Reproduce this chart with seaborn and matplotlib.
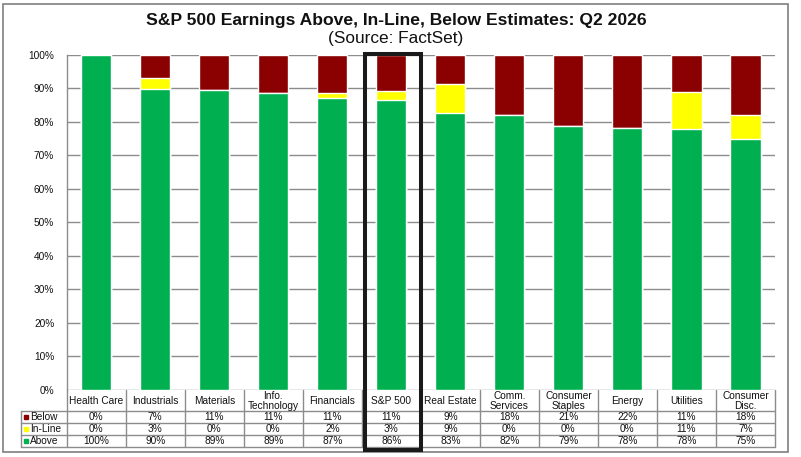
import numpy as np
import pandas as pd
import matplotlib
matplotlib.use('Agg')
import matplotlib.pyplot as plt
import seaborn as sns
from matplotlib.patches import Rectangle

# dados (% de empresas)
sectors = ['Health Care', 'Industrials', 'Materials', 'Info.\nTechnology', 'Financials', 'S&P 500',
           'Real Estate', 'Comm.\nServices', 'Consumer\nStaples', 'Energy', 'Utilities', 'Consumer\nDisc.']
above = [100, 89.9, 89.4, 88.6, 87.1, 86.4, 82.7, 82.0, 78.8, 78.0, 77.8, 75.0]
inline = [0, 3.3, 0, 0, 1.5, 2.8, 8.6, 0, 0, 0, 11.1, 7.0]
below = [0, 6.8, 10.6, 11.4, 11.4, 10.8, 8.7, 18.0, 21.2, 22.0, 11.1, 18.0]

GREEN = '#00B050'
YELLOW = '#FFFF00'
RED = '#8B0000'
GRID = '#8c8c8c'
TXT = '#111111'

df = pd.DataFrame({'sector': sectors, 'above': above, 'inline': inline, 'below': below})
df['top_inline'] = df['above'] + df['inline']
df['total'] = df['top_inline'] + df['below']

sns.set_style('white')
plt.rcParams['font.family'] = ['Liberation Sans', 'DejaVu Sans']

W, H = 801, 457
fig = plt.figure(figsize=(W / 100, H / 100), dpi=100)

def fx(px):
    return px / W

def fy(py):
    return 1 - py / H

# eixo principal
L, R, T, B = 66.7, 775, 54.7, 390
ax = fig.add_axes([fx(L), fy(B), fx(R - L), (B - T) / H])

# barras empilhadas: desenha o total e sobrepoe as camadas
sns.barplot(data=df, x='sector', y='total', color=RED, saturation=1, width=0.51, ax=ax, zorder=3)
sns.barplot(data=df, x='sector', y='top_inline', color=YELLOW, saturation=1, width=0.51, ax=ax, zorder=3)
sns.barplot(data=df, x='sector', y='above', color=GREEN, saturation=1, width=0.51, ax=ax, zorder=3)

ax.set_xlim(-0.5, len(sectors) - 0.5)
ax.set_ylim(0, 100)
ax.set_yticks(np.arange(0, 101, 10))
ax.set_yticklabels([f'{v}%' for v in range(0, 101, 10)], fontsize=7.3, color=TXT)
ax.set_xticks([])
ax.set_xlabel('')
ax.set_ylabel('')
ax.yaxis.grid(True, color=GRID, linewidth=1.0, zorder=0)
ax.set_axisbelow(True)
ax.tick_params(axis='y', length=0, pad=9)
for s in ['top', 'right', 'bottom']:
    ax.spines[s].set_visible(False)
ax.spines['left'].set_color(GRID)
ax.spines['left'].set_linewidth(1.0)

# titulo
fig.text(fx(396), fy(20), 'S&P 500 Earnings Above, In-Line, Below Estimates: Q2 2026',
         ha='center', va='center', fontsize=12.6, fontweight='bold', color=TXT)
fig.text(fx(396), fy(39), '(Source: FactSet)', ha='center', va='center', fontsize=12.4, color=TXT)

# tabela de dados abaixo do grafico
tb_bottom = 446.7
tab = fig.add_axes([fx(L), fy(tb_bottom), fx(R - L), (tb_bottom - B) / H])
tab.set_xlim(-0.5, len(sectors) - 0.5)
tab.set_ylim(tb_bottom - B, 0)
tab.axis('off')

row_y = [0, 20.7, 33.3, 45.3, 56.7]
n = len(sectors)
lc = GRID
lbl_left = -0.5 - (L - 20.7) / ((R - L) / n)

# linhas horizontais
for yy in row_y[1:]:
    tab.plot([lbl_left, n - 0.5], [yy, yy], color=lc, lw=1.0, clip_on=False)
# linhas verticais
for i in range(n + 1):
    tab.plot([i - 0.5, i - 0.5], [0, row_y[-1]], color=lc, lw=1.0, clip_on=False)
tab.plot([lbl_left, lbl_left], [row_y[1], row_y[-1]], color=lc, lw=1.0, clip_on=False)

for i, name in enumerate(sectors):
    tab.text(i, row_y[1] / 2 + 0.5, name, ha='center', va='center', fontsize=7.3,
             color=TXT, linespacing=0.92)

rows = [('Below', below, RED), ('In-Line', inline, YELLOW), ('Above', above, GREEN)]
for r, (name, vals, col) in enumerate(rows):
    yc = (row_y[r + 1] + row_y[r + 2]) / 2
    tab.plot([lbl_left + 0.09], [yc], marker='s', markersize=3.4, color=col, clip_on=False, linestyle='')
    tab.text(lbl_left + 0.16, yc, name, ha='left', va='center', fontsize=7.3, color=TXT)
    for i, v in enumerate(vals):
        tab.text(i, yc, f'{round(v)}%', ha='center', va='center', fontsize=7.3, color=TXT)

# destaque do S&P 500
fig.patches.append(Rectangle((fx(364.7), fy(450)), fx(421 - 364.7), (450 - 54) / H,
                             transform=fig.transFigure, fill=False, edgecolor='#1a1a1a',
                             linewidth=2.9, zorder=10))

# moldura externa
fig.patches.append(Rectangle((fx(2.5), fy(452)), fx(788 - 2.5), (452 - 4) / H,
                             transform=fig.transFigure, fill=False, edgecolor='#7f7f7f',
                             linewidth=1.2, zorder=9))

fig.savefig('out.png', dpi=100, facecolor='white')
